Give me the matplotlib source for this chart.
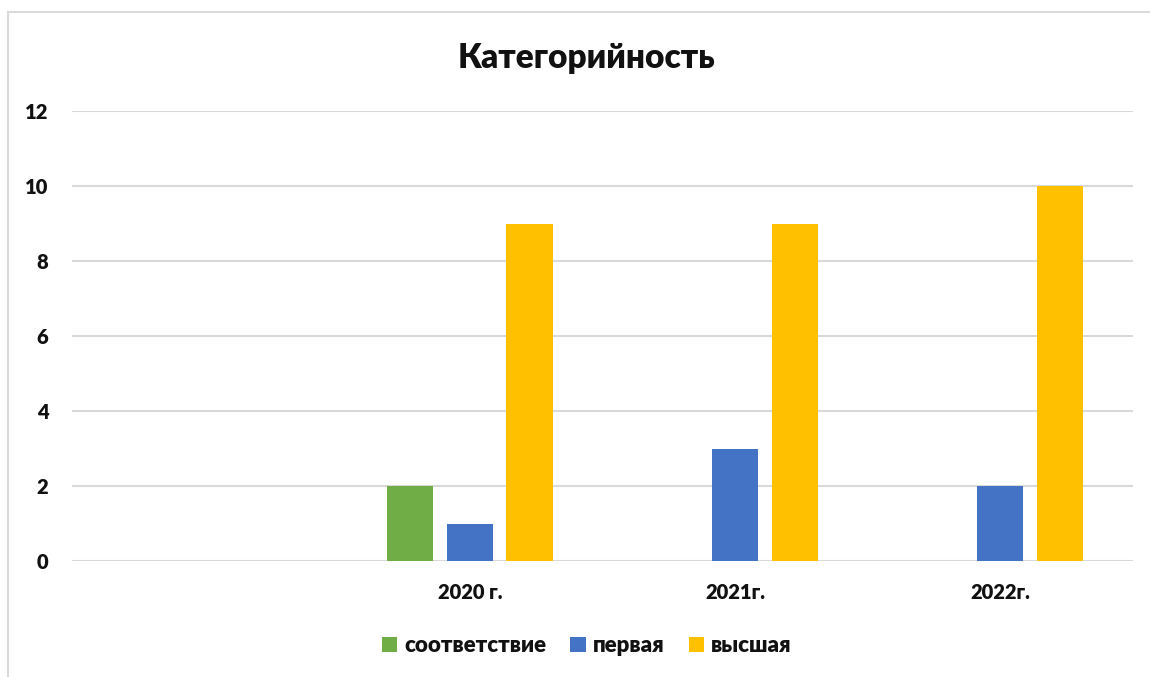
import numpy as np
import matplotlib
matplotlib.use('Agg')
import matplotlib.pyplot as plt
from matplotlib.patches import Rectangle

# Data
categories = ['', '2020 г.', '2021г.', '2022г.']
series_names = ['соответствие', 'первая', 'высшая']
sootv = [0, 2, 0, 0]
pervaya = [0, 1, 3, 2]
vysshaya = [0, 9, 9, 10]
colors = ['#70AD47', '#4472C4', '#FFC000']

plt.rcParams['font.family'] = ['Lato', 'DejaVu Sans']

fig = plt.figure(figsize=(11.5, 6.77), dpi=100)
ax = fig.add_axes([72 / 1150, 116 / 677, 1061 / 1150, 450 / 677])

# chart border
fig.patches.append(Rectangle((8 / 1150, -0.1), 1.2, (677 - 12) / 677 + 0.1,
                             transform=fig.transFigure, fill=False,
                             edgecolor='#d9d9d9', linewidth=1.5))

x = np.arange(len(categories))
width = 0.174
step = 0.2245
for i, (vals, name) in enumerate(zip([sootv, pervaya, vysshaya], series_names)):
    ax.bar(x + (i - 1) * step, vals, width, color=colors[i], label=name, zorder=3)

ax.set_xlim(-0.5, len(categories) - 0.5)
ax.set_ylim(0, 12)
ax.set_yticks(range(0, 13, 2))
ax.set_xticks(x)
ax.set_xticklabels(categories)
ax.grid(axis='y', color='#d9d9d9', linewidth=1.5, zorder=0)
ax.set_axisbelow(True)
for s in ax.spines.values():
    s.set_visible(False)
ax.tick_params(axis='both', length=0, labelsize=14.5, colors='#111111')
ax.tick_params(axis='y', pad=17)
ax.tick_params(axis='x', pad=16)
for lbl in ax.get_xticklabels() + ax.get_yticklabels():
    lbl.set_fontweight('heavy')

fig.text(0.51, 1 - 58 / 677, 'Категорийность', ha='center', va='center',
         fontsize=24, fontweight='heavy', color='#111111')

leg = ax.legend(loc='center', bbox_to_anchor=(0.485, -0.188), ncol=3, frameon=False,
                prop={'size': 16, 'weight': 'heavy'}, handlelength=0.7,
                handleheight=0.7, handletextpad=0.3, columnspacing=1.1)
for t in leg.get_texts():
    t.set_color('#111111')

fig.savefig('out.png', dpi=100)
